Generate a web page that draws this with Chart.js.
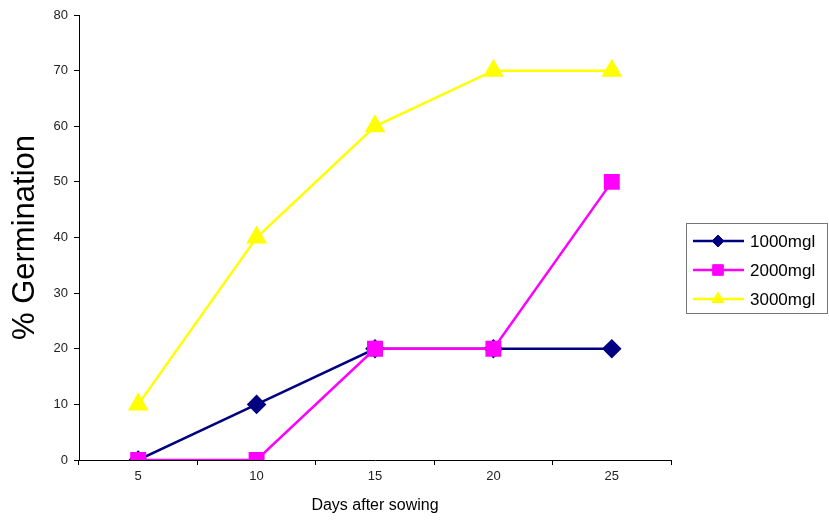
<!DOCTYPE html>
<html>
<head>
<meta charset="utf-8">
<script src="https://cdn.jsdelivr.net/npm/chart.js@4.4.1/dist/chart.umd.min.js"></script>
<style>
  html, body { margin: 0; padding: 0; background: #fff; }
  #wrap { width: 829px; height: 521px; position: relative; }
</style>
</head>
<body>
<div id="wrap"><canvas id="c" width="829" height="521"></canvas></div>
<script>
// Days after sowing
const days = ['5', '10', '15', '20', '25'];
// % germination by concentration
const germ1000 = [0, 10, 20, 20, 20];
const germ2000 = [0, 0, 20, 20, 50];
const germ3000 = [10, 40, 60, 70, 70];
const seriesNames = ['1000mgl', '2000mgl', '3000mgl'];
const yTicks = [0, 10, 20, 30, 40, 50, 60, 70, 80];

const FONT = "'Liberation Sans', Arial, sans-serif";

function drawMarker(ctx, style, r, x, y) {
  ctx.beginPath();
  if (style === 'rectRot') {
    ctx.moveTo(x, y - r); ctx.lineTo(x + r, y); ctx.lineTo(x, y + r); ctx.lineTo(x - r, y);
  } else if (style === 'rect') {
    const s = r * Math.SQRT1_2;
    ctx.rect(x - s, y - s, 2 * s, 2 * s);
  } else {
    ctx.moveTo(x, y - r);
    ctx.lineTo(x + r * Math.cos(Math.PI / 6), y + r / 2);
    ctx.lineTo(x - r * Math.cos(Math.PI / 6), y + r / 2);
  }
  ctx.closePath();
  ctx.fill();
  ctx.stroke();
}

// Boxed legend drawn on the right, beside the plot
const boxLegend = {
  id: 'boxLegend',
  afterDraw(chart) {
    const ctx = chart.ctx;
    const x0 = 686.5, y0 = 223.5, w = 141, h = 90;
    ctx.save();
    ctx.strokeStyle = '#777';
    ctx.lineWidth = 1;
    ctx.strokeRect(x0, y0, w, h);
    const rows = [241, 270, 299];
    chart.data.datasets.forEach((ds, i) => {
      const y = rows[i];
      ctx.strokeStyle = ds.borderColor;
      ctx.lineWidth = 2.5;
      ctx.beginPath();
      ctx.moveTo(693, y);
      ctx.lineTo(744, y);
      ctx.stroke();
      ctx.fillStyle = ds.pointBackgroundColor;
      ctx.strokeStyle = ds.pointBorderColor;
      ctx.lineWidth = 1;
      drawMarker(ctx, ds.pointStyle, ds.legendRadius, 718, y);
      ctx.fillStyle = '#000';
      ctx.font = '17px ' + FONT;
      ctx.textBaseline = 'middle';
      ctx.textAlign = 'left';
      ctx.fillText(ds.label, 750, y + 1);
    });
    ctx.restore();
  }
};

new Chart(document.getElementById('c'), {
  type: 'line',
  data: {
    labels: days,
    datasets: [
      {
        label: seriesNames[0], data: germ1000, order: 1,
        borderColor: '#000080', backgroundColor: '#000080',
        pointBackgroundColor: '#000080', pointBorderColor: '#000080',
        pointStyle: 'rectRot', pointRadius: 8, legendRadius: 6,
        borderWidth: 2.5, tension: 0
      },
      {
        label: seriesNames[1], data: germ2000, order: 0,
        borderColor: '#FF00FF', backgroundColor: '#FF00FF',
        pointBackgroundColor: '#FF00FF', pointBorderColor: '#FF00FF',
        pointStyle: 'rect', pointRadius: 9.5, legendRadius: 7.5,
        borderWidth: 2.5, tension: 0
      },
      {
        label: seriesNames[2], data: germ3000, order: 2,
        borderColor: '#FFFF00', backgroundColor: '#FFFF00',
        pointBackgroundColor: '#FFFF00', pointBorderColor: '#FFFF00',
        pointStyle: 'triangle', pointRadius: 9.5, legendRadius: 7,
        borderWidth: 2.5, tension: 0
      }
    ]
  },
  options: {
    responsive: false,
    animation: false,
    layout: { padding: { left: 0, right: 158, top: 15, bottom: 0 } },
    plugins: {
      legend: { display: false },
      tooltip: { enabled: false }
    },
    elements: { point: { borderWidth: 1, hoverRadius: 8 } },
    scales: {
      x: {
        offset: true,
        grid: {
          offset: true, drawOnChartArea: false, drawTicks: true,
          tickLength: 5, color: '#000', tickWidth: 1
        },
        border: { color: '#000', width: 1 },
        ticks: { color: '#222', font: { family: FONT, size: 13 }, padding: 4, maxRotation: 0 },
        title: {
          display: true, text: 'Days after sowing', color: '#000',
          font: { family: FONT, size: 16 }, padding: { top: 0, bottom: 6 }
        },
        afterFit(s) { s.height = 61; }
      },
      y: {
        min: 0, max: 80,
        afterBuildTicks(s) { s.ticks = yTicks.map(v => ({ value: v })); },
        grid: {
          drawOnChartArea: false, drawTicks: true,
          tickLength: 5, color: '#000', tickWidth: 1
        },
        border: { color: '#000', width: 1 },
        ticks: { color: '#222', font: { family: FONT, size: 13 }, padding: 6 },
        title: {
          display: true, text: '% Germination', color: '#000',
          font: { family: FONT, size: 31 }, padding: { top: 7, bottom: 0 }
        },
        afterFit(s) { s.width = 79; }
      }
    }
  },
  plugins: [boxLegend]
});
</script>
</body>
</html>
